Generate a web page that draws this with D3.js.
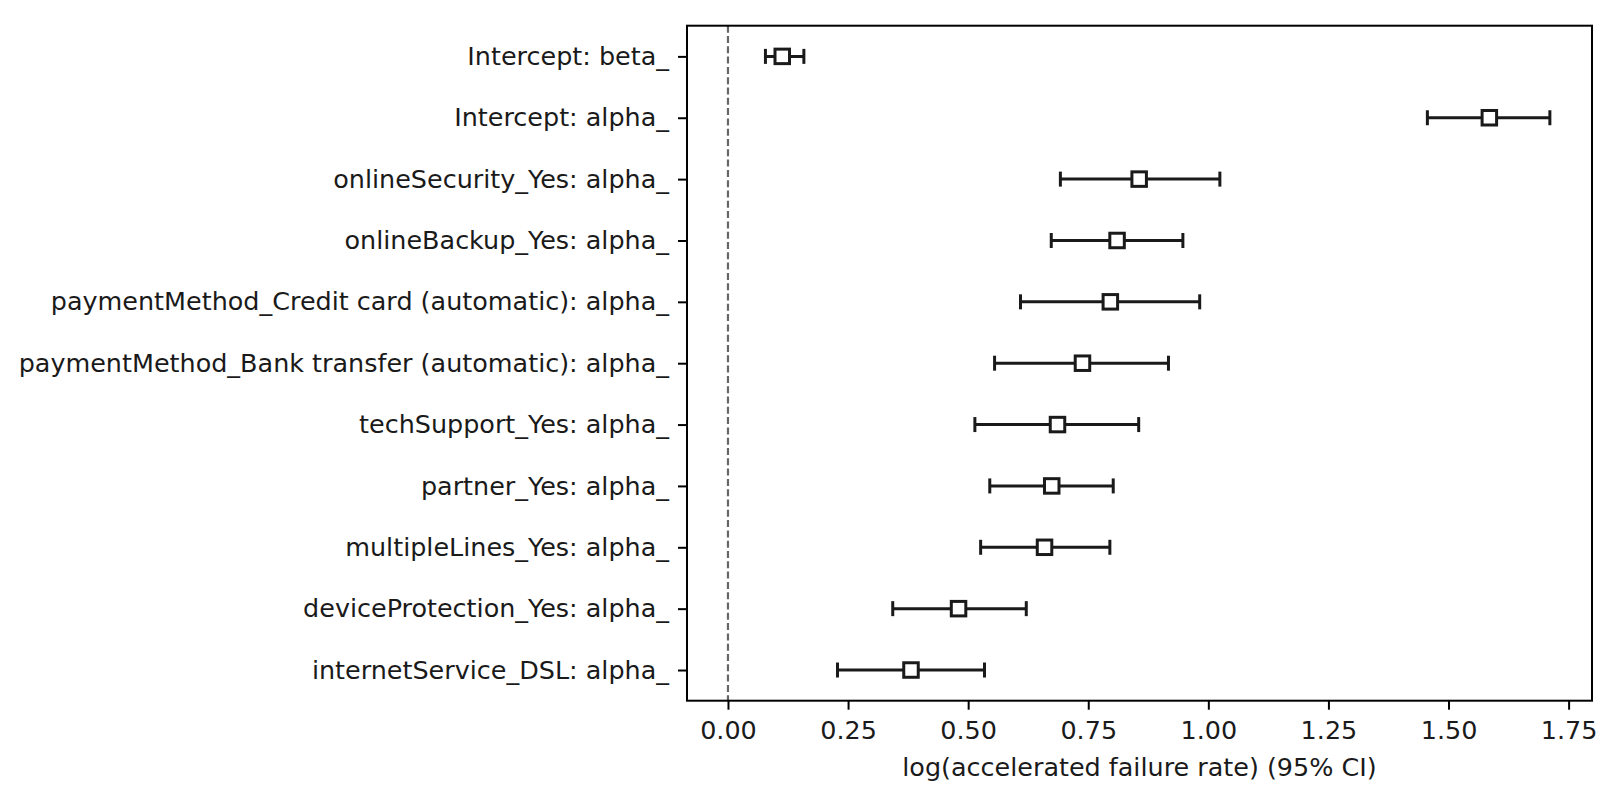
<!DOCTYPE html>
<html>
<head>
<meta charset="utf-8">
<script src="https://cdn.jsdelivr.net/npm/d3@7"></script>
<style>
  body { margin: 0; background: #fff; }
  text { font-family: "DejaVu Sans", sans-serif; }
</style>
</head>
<body>
<div class="canvas"></div>
<script>
const dims = {width: 1614, height: 798};
const margin = {top: 25.7, right: 22, bottom: 97.3, left: 687};

// covariates, top to bottom
const labels = [
	'Intercept: beta_',
	'Intercept: alpha_',
	'onlineSecurity_Yes: alpha_',
	'onlineBackup_Yes: alpha_',
	'paymentMethod_Credit card (automatic): alpha_',
	'paymentMethod_Bank transfer (automatic): alpha_',
	'techSupport_Yes: alpha_',
	'partner_Yes: alpha_',
	'multipleLines_Yes: alpha_',
	'deviceProtection_Yes: alpha_',
	'internetService_DSL: alpha_'
];
const coefs = [0.113, 1.585, 0.856, 0.810, 0.796, 0.738, 0.686, 0.674, 0.659, 0.480, 0.381];
const lower = [0.078, 1.456, 0.692, 0.673, 0.609, 0.555, 0.514, 0.545, 0.526, 0.343, 0.228];
const upper = [0.158, 1.711, 1.024, 0.947, 0.982, 0.917, 0.855, 0.802, 0.795, 0.621, 0.534];
const xTicks = [0, 0.25, 0.5, 0.75, 1.0, 1.25, 1.5, 1.75];

const rows = labels.map((name, i) => ({name, i, coef: coefs[i], lo: lower[i], hi: upper[i]}));

const svg = d3.select('.canvas')
	.append('svg')
	.attr('width', dims.width)
	.attr('height', dims.height);

const innerW = dims.width - margin.left - margin.right;
const innerH = dims.height - margin.top - margin.bottom;

const x = d3.scaleLinear()
	.domain([-0.0853, 1.7987])
	.range([margin.left, margin.left + innerW]);

const y = d3.scaleLinear()
	.domain([-0.5, labels.length - 0.5])
	.range([margin.top, margin.top + innerH]);

const fontSize = 25.45;
const textColour = '#1a1a1a';

// zero line
svg.append('line')
	.attr('x1', x(0)).attr('x2', x(0))
	.attr('y1', margin.top).attr('y2', margin.top + innerH)
	.attr('stroke', '#000')
	.attr('stroke-opacity', 0.6)
	.attr('stroke-width', 2.2)
	.attr('stroke-dasharray', '7 3.3');

// error bars
const bars = svg.append('g')
	.selectAll('.bar')
	.data(rows)
	.enter()
	.append('g')
		.attr('class', 'bar')
		.attr('stroke', '#1a1a1a')
		.attr('stroke-width', 3);

bars.append('line')
	.attr('x1', d => x(d.lo)).attr('x2', d => x(d.hi))
	.attr('y1', d => y(d.i)).attr('y2', d => y(d.i));

bars.append('line')
	.attr('x1', d => x(d.lo)).attr('x2', d => x(d.lo))
	.attr('y1', d => y(d.i) - 7.5).attr('y2', d => y(d.i) + 7.5);

bars.append('line')
	.attr('x1', d => x(d.hi)).attr('x2', d => x(d.hi))
	.attr('y1', d => y(d.i) - 7.5).attr('y2', d => y(d.i) + 7.5);

const ms = 14.5;
bars.append('rect')
	.attr('x', d => x(d.coef) - ms / 2)
	.attr('y', d => y(d.i) - ms / 2)
	.attr('width', ms)
	.attr('height', ms)
	.attr('fill', '#fff');

// axes
const xAxis = d3.axisBottom(x)
	.tickValues(xTicks)
	.tickFormat(d3.format('.2f'))
	.tickSize(9)
	.tickPadding(11);

const gx = svg.append('g')
	.attr('transform', `translate(0, ${margin.top + innerH})`)
	.call(xAxis);

const yAxis = d3.axisLeft(y)
	.tickValues(rows.map(d => d.i))
	.tickFormat(i => labels[i])
	.tickSize(9)
	.tickPadding(9);

const gy = svg.append('g')
	.attr('transform', `translate(${margin.left}, 0)`)
	.call(yAxis);

[gx, gy].forEach(g => {
	g.select('.domain').remove();
	g.selectAll('.tick line').attr('stroke', '#000').attr('stroke-width', 2);
	g.selectAll('.tick text')
		.attr('fill', textColour)
		.style('font-size', fontSize + 'px')
		.style('font-family', '"DejaVu Sans", sans-serif');
});

// frame
svg.append('rect')
	.attr('x', margin.left)
	.attr('y', margin.top)
	.attr('width', innerW)
	.attr('height', innerH)
	.attr('fill', 'none')
	.attr('stroke', '#000')
	.attr('stroke-width', 2);

// x label
svg.append('text')
	.attr('x', (x.range()[0] + x.range()[1]) / 2)
	.attr('y', 776)
	.attr('text-anchor', 'middle')
	.attr('fill', textColour)
	.style('font-size', fontSize + 'px')
	.text('log(accelerated failure rate) (95% CI)');
</script>
</body>
</html>
